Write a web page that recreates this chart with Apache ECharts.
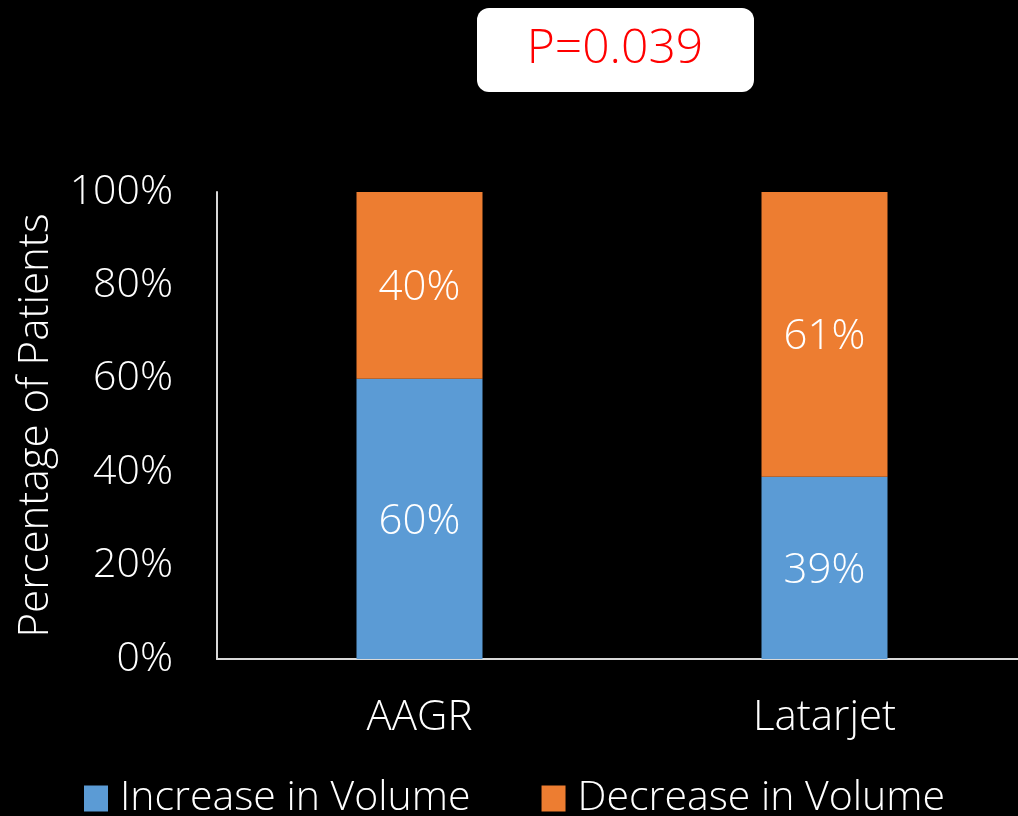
<!DOCTYPE html>
<html>
<head>
<meta charset="utf-8">
<script src="https://cdn.jsdelivr.net/npm/echarts@6/dist/echarts.min.js"></script>
<style>
  html, body { margin: 0; padding: 0; background: #000; }
  #chart { width: 1018px; height: 816px; }
</style>
</head>
<body>
<div id="chart"></div>
<script>
  // values
  var categories = ["AAGR", "Latarjet"];
  var increaseData = [60, 39];
  var decreaseData = [40, 61];
  var seriesNames = ["Increase in Volume", "Decrease in Volume"];
  var pValueText = "P=0.039";

  var font = "'Open Sans', sans-serif";
  var chart = echarts.init(document.getElementById("chart"));

  var option = {
    backgroundColor: "#000",
    animation: false,
    textStyle: { fontFamily: font, fontWeight: 300 },
    grid: {
      left: 217,
      right: -9,
      top: 192,
      bottom: 157,
      containLabel: false,
      outerBoundsMode: "none"
    },
    legend: {
      left: 79,
      top: 773,
      icon: "rect",
      itemWidth: 24,
      itemHeight: 26,
      itemGap: 71,
      textStyle: {
        color: "#fff",
        fontSize: 41,
        fontFamily: font,
        fontWeight: 300,
        padding: [0, 0, 0, 7]
      },
      data: seriesNames
    },
    xAxis: {
      type: "category",
      data: categories,
      axisLine: { lineStyle: { color: "#d9d9d9", width: 2 } },
      axisTick: { show: false },
      axisLabel: {
        color: "#fff",
        fontSize: 42,
        fontFamily: font,
        fontWeight: 300,
        margin: 38
      }
    },
    yAxis: {
      type: "value",
      min: 0,
      max: 100,
      interval: 20,
      name: "Percentage of Patients",
      nameLocation: "middle",
      nameRotate: 90,
      nameGap: 160,
      nameTextStyle: { color: "#fff", fontSize: 42, fontFamily: font, fontWeight: 300 },
      axisLine: { show: true, lineStyle: { color: "#d9d9d9", width: 2 } },
      axisTick: { show: false },
      splitLine: { show: false },
      axisLabel: {
        color: "#fff",
        fontSize: 41,
        fontFamily: font,
        fontWeight: 300,
        margin: 44,
        formatter: "{value}%"
      }
    },
    series: [
      {
        name: seriesNames[0],
        type: "bar",
        stack: "total",
        barWidth: 126,
        itemStyle: { color: "#5B9BD5" },
        label: {
          show: true,
          position: "inside",
          color: "#fff",
          fontSize: 42,
          fontFamily: font,
          fontWeight: 300,
          offset: [0, 3],
          formatter: "{c}%"
        },
        data: increaseData
      },
      {
        name: seriesNames[1],
        type: "bar",
        stack: "total",
        barWidth: 126,
        itemStyle: { color: "#ED7D31" },
        label: {
          show: true,
          position: "inside",
          color: "#fff",
          fontSize: 42,
          fontFamily: font,
          fontWeight: 300,
          offset: [0, 3],
          formatter: "{c}%"
        },
        data: decreaseData
      }
    ],
    graphic: [
      {
        type: "rect",
        left: 477,
        top: 8,
        shape: { width: 277, height: 84, r: 12 },
        style: { fill: "#fff" }
      },
      {
        type: "text",
        x: 615,
        y: 49,
        style: {
          text: pValueText,
          fill: "#ff0000",
          fontSize: 48,
          fontFamily: font,
          fontWeight: 300,
          align: "center",
          verticalAlign: "middle"
        }
      }
    ]
  };

  chart.setOption(option);
</script>
</body>
</html>
